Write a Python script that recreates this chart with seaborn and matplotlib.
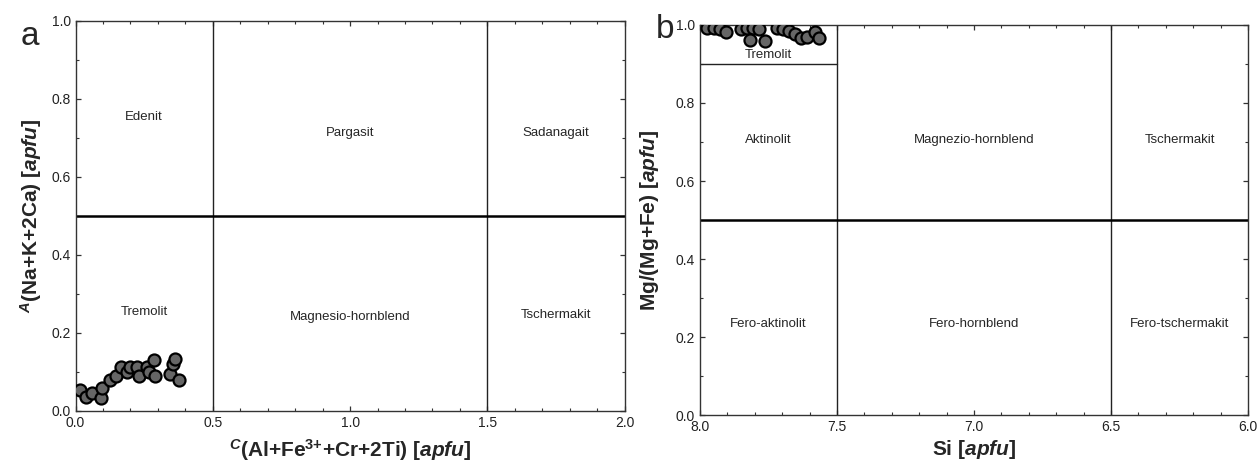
import numpy as np
import pandas as pd
import matplotlib.pyplot as plt
from matplotlib.ticker import MultipleLocator
import seaborn as sns

# panel a: C(Al+Fe3++Cr+2Ti) vs A(Na+K+2Ca)
a_x = [0.017, 0.039, 0.061, 0.094, 0.098, 0.125, 0.147, 0.164, 0.189, 0.198,
       0.225, 0.230, 0.261, 0.266, 0.286, 0.291, 0.344, 0.356, 0.364, 0.378]
a_y = [0.054, 0.037, 0.047, 0.033, 0.058, 0.080, 0.091, 0.114, 0.099, 0.114,
       0.112, 0.090, 0.113, 0.101, 0.131, 0.091, 0.095, 0.120, 0.134, 0.080]

# panel b: Si vs Mg/(Mg+Fe)
b_x = [7.976, 7.949, 7.927, 7.905, 7.852, 7.830, 7.808, 7.786, 7.818,
       7.763, 7.720, 7.698, 7.674, 7.653, 7.633, 7.611, 7.582, 7.565]
b_y = [0.992, 0.992, 0.990, 0.983, 0.990, 0.992, 0.992, 0.989, 0.962,
       0.960, 0.993, 0.990, 0.985, 0.976, 0.967, 0.970, 0.983, 0.966]

a_fields = ["Edenit", "Pargasit", "Sadanagait", "Tremolit", "Magnesio-hornblend", "Tschermakit"]
a_field_x = [0.25, 1.0, 1.75, 0.25, 1.0, 1.75]
a_field_y = [0.753, 0.712, 0.712, 0.253, 0.242, 0.245]

b_fields = ["Tremolit", "Aktinolit", "Magnezio-hornblend", "Tschermakit",
            "Fero-aktinolit", "Fero-hornblend", "Fero-tschermakit"]
b_field_x = [7.75, 7.75, 7.0, 6.25, 7.75, 7.0, 6.25]
b_field_y = [0.923, 0.705, 0.705, 0.705, 0.233, 0.233, 0.233]

sns.set_style("ticks")
plt.rcParams['font.family'] = ['Liberation Sans', 'DejaVu Sans']
plt.rcParams['mathtext.fontset'] = 'custom'
plt.rcParams['mathtext.rm'] = 'Liberation Sans'
plt.rcParams['mathtext.it'] = 'Liberation Sans:italic'
plt.rcParams['mathtext.bf'] = 'Liberation Sans:bold'
plt.rcParams['mathtext.bfit'] = 'Liberation Sans:italic:bold'

dfa = pd.DataFrame({'x': a_x, 'y': a_y})
dfb = pd.DataFrame({'x': b_x, 'y': b_y})

fig = plt.figure(figsize=(12.59, 4.62), dpi=100)
axa = fig.add_axes([0.0600, 0.1104, 0.4361, 0.8442])
axb = fig.add_axes([0.5560, 0.1017, 0.4353, 0.8442])

line_c = '#222222'


def style(ax):
    ax.tick_params(which='both', direction='in', top=True, right=True,
                   labelsize=10, colors='#333333', labelcolor='#222222')
    ax.tick_params(which='major', length=3.5, width=0.9)
    ax.tick_params(which='minor', length=2, width=0.8)
    ax.yaxis.set_major_locator(MultipleLocator(0.2))
    ax.yaxis.set_minor_locator(MultipleLocator(0.1))
    ax.xaxis.set_major_locator(MultipleLocator(0.5))
    ax.xaxis.set_minor_locator(MultipleLocator(0.1))
    for s in ax.spines.values():
        s.set_color('#333333')
        s.set_linewidth(1.0)


# ---- panel a
axa.axvline(0.5, color=line_c, lw=1.0)
axa.axvline(1.5, color=line_c, lw=1.0)
axa.axhline(0.5, color='black', lw=1.8)
sns.scatterplot(data=dfa, x='x', y='y', ax=axa, s=75, color='#666666',
                edgecolor='black', linewidth=1.6, zorder=5)
for t, x, y in zip(a_fields, a_field_x, a_field_y):
    axa.text(x, y, t, ha='center', va='center', fontsize=9.5)
axa.set_xlim(0, 2)
axa.set_ylim(0, 1)
style(axa)
axa.set_xlabel(r"$^{\mathbfit{C}}$(Al+Fe$^{\mathbf{3{+}}}$+Cr+2Ti) [$\mathbfit{apfu}$]",
               fontsize=15, fontweight='bold')
axa.set_ylabel(r"$^{\mathbfit{A}}$(Na+K+2Ca) [$\mathbfit{apfu}$]",
               fontsize=15, fontweight='bold')
axa.xaxis.set_label_coords(0.5, -0.068)
axa.yaxis.set_label_coords(-0.058, 0.5)

# ---- panel b
axb.axvline(7.5, color=line_c, lw=1.0)
axb.axvline(6.5, color=line_c, lw=1.0)
axb.axhline(0.5, color='black', lw=1.8)
axb.plot([8.0, 7.5], [0.9, 0.9], color=line_c, lw=1.0)
sns.scatterplot(data=dfb, x='x', y='y', ax=axb, s=75, color='#666666',
                edgecolor='black', linewidth=1.6, zorder=5)
for t, x, y in zip(b_fields, b_field_x, b_field_y):
    axb.text(x, y, t, ha='center', va='center', fontsize=9.5)
axb.set_xlim(8, 6)
axb.set_ylim(0, 1)
style(axb)
axb.set_xlabel(r"Si [$\mathbfit{apfu}$]", fontsize=15, fontweight='bold')
axb.set_ylabel(r"Mg/(Mg+Fe) [$\mathbfit{apfu}$]", fontsize=15, fontweight='bold')
axb.xaxis.set_label_coords(0.5, -0.058)
axb.yaxis.set_label_coords(-0.072, 0.5)

fig.text(0.024, 0.903, 'a', fontsize=24, ha='center', va='baseline')
fig.text(0.528, 0.918, 'b', fontsize=24, ha='center', va='baseline')

fig.savefig('out.png', dpi=100)
